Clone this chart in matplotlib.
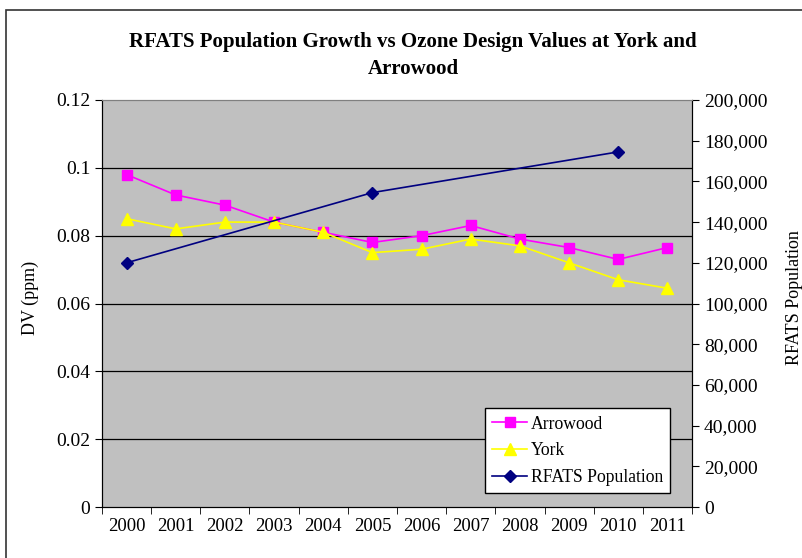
import numpy as np
import matplotlib
matplotlib.use("Agg")
import matplotlib.pyplot as plt
from matplotlib.patches import Rectangle

# --------------------------
# Data
# --------------------------
years = ['2000', '2001', '2002', '2003', '2004', '2005',
         '2006', '2007', '2008', '2009', '2010', '2011']
arrowood = [0.098, 0.092, 0.089, 0.084, 0.081, 0.078,
            0.080, 0.083, 0.079, 0.0765, 0.073, 0.0765]
york = [0.085, 0.082, 0.084, 0.084, 0.081, 0.075,
        0.076, 0.079, 0.077, 0.072, 0.067, 0.0645]
pop_years = ['2000', '2005', '2010']
rfats_pop = [120000, 154500, 174500]

left_ticks = [0, 0.02, 0.04, 0.06, 0.08, 0.1, 0.12]
left_labels = ['0', '0.02', '0.04', '0.06', '0.08', '0.1', '0.12']
right_ticks = list(range(0, 200001, 20000))

plt.rcParams['font.family'] = ['Liberation Serif', 'DejaVu Serif']

fig = plt.figure(figsize=(8.03, 5.58), dpi=100)
fig.patch.set_facecolor('white')

# outer chart border (cut off at right and bottom)
fig.patches.append(Rectangle((6/803, -0.1), 1.2, (558-10)/558 + 0.1,
                             transform=fig.transFigure, fill=False,
                             edgecolor='#333333', lw=1.2))

ax = fig.add_axes([102/803, 51/558, 590/803, 407/558])
ax.set_facecolor('#c0c0c0')

x = np.arange(len(years))
pop_x = [years.index(y) for y in pop_years]

ax.set_ylim(0, 0.12)
ax.set_xlim(-0.5, len(years) - 0.5)
ax.set_yticks(left_ticks)
ax.set_yticklabels(left_labels)
for t in left_ticks[1:-1]:
    ax.axhline(t, color='black', lw=0.9, zorder=1)

l1, = ax.plot(x, arrowood, color='#ff00ff', marker='s', ms=7, lw=1.2,
              label='Arrowood', zorder=3)
l2, = ax.plot(x, york, color='#ffff00', marker='^', ms=8, lw=1.2,
              label='York', zorder=3)

ax.set_xticks(x)
ax.set_xticklabels(years)
ax.set_xticks(np.arange(-0.5, len(years), 1), minor=True)
ax.tick_params(axis='x', which='major', length=0, labelsize=13.5, pad=8)
ax.tick_params(axis='x', which='minor', length=5, direction='out', color='black')
ax.tick_params(axis='y', length=5, direction='out', labelsize=14)

fig.text(30/803, 1 - 298/558, 'DV (ppm)', rotation=90,
         ha='center', va='center', fontsize=13)

ax2 = ax.twinx()
ax2.set_ylim(0, 200000)
ax2.set_yticks(right_ticks)
ax2.set_yticklabels([f'{v:,}' for v in right_ticks])
ax2.tick_params(axis='y', length=5, direction='out', labelsize=14)
l3, = ax2.plot(pop_x, rfats_pop, color='#000080', marker='D', ms=6, lw=1.2,
               label='RFATS Population', zorder=3)

fig.text(795/803, 1 - 298/558, 'RFATS Population', rotation=90,
         ha='center', va='center', fontsize=13)

for a in (ax, ax2):
    a.spines['top'].set_color('#808080')
    a.spines['left'].set_color('black')
    a.spines['right'].set_color('black')
    a.spines['bottom'].set_color('black')

leg = ax2.legend(handles=[l1, l2, l3], loc='lower right',
                 bbox_to_anchor=(0.9627, 0.0344), borderaxespad=0,
                 fontsize=12.7, frameon=True, fancybox=False, framealpha=1,
                 edgecolor='black', handlelength=2.0, borderpad=0.4,
                 labelspacing=0.55, handletextpad=0.2)
leg.get_frame().set_linewidth(1.0)

fig.text(413/803, 0.925, 'RFATS Population Growth vs Ozone Design Values at York and',
         ha='center', va='center', fontsize=15, fontweight='bold')
fig.text(413/803, 0.877, 'Arrowood', ha='center', va='center',
         fontsize=15, fontweight='bold')

fig.savefig('out.png', dpi=100)
